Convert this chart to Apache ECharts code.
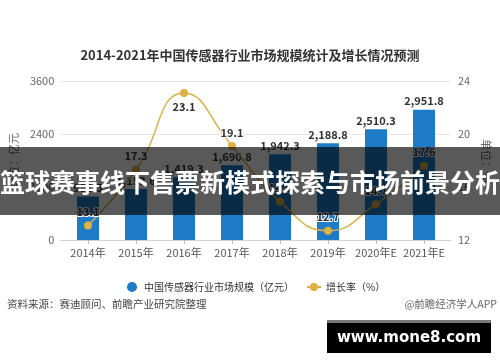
<!DOCTYPE html>
<html>
<head>
<meta charset="utf-8">
<script src="https://cdn.jsdelivr.net/npm/echarts@6/dist/echarts.min.js"></script>
<style>html,body{margin:0;padding:0;background:#fff}#c{width:500px;height:362px}</style>
</head>
<body>
<div id="c"></div>
<script>
var categories = ['2014年','2015年','2016年','2017年','2018年','2019年','2020年E','2021年E'];
var marketSize = [983.5, 1153.6, 1419.3, 1690.8, 1942.3, 2188.8, 2510.3, 2951.8];
var growthRate = [13.1, 17.3, 23.1, 19.1, 14.9, 12.7, 14.7, 17.6];
var leftTicks = {min: 0, max: 3600, interval: 1200};
var rightTicks = {min: 12, max: 24, interval: 4};
var barName = '中国传感器行业市场规模（亿元）';
var lineName = '增长率（%）';

var FONT = '"Noto Sans CJK SC","Noto Sans",sans-serif';
var chart = echarts.init(document.getElementById('c'));
var lineData = growthRate.map(function (v, i) {
  var d = {value: v};
  if (i === 2) d.label = {position: 'bottom', distance: 4};
  return d;
});
chart.setOption({
  animation: false,
  textStyle: {fontFamily: FONT},
  title: {
    text: '2014-2021年中国传感器行业市场规模统计及增长情况预测',
    left: 'center', top: 44,
    textStyle: {fontSize: 13, fontWeight: 'bold', color: '#333', fontFamily: FONT}
  },
  legend: {
    left: 122, top: 277, itemGap: 12, itemWidth: 14, itemHeight: 10, itemTextGap: 4,
    textStyle: {fontSize: 10, color: '#333', fontFamily: FONT},
    data: [{name: barName, icon: 'circle'}, {name: lineName}]
  },
  grid: [
    {left: 57, right: 45, top: 81, bottom: 122},
    {left: 64, right: 52, top: 81, bottom: 122}
  ],
  xAxis: [
    {gridIndex: 0, type: 'category', data: categories,
     axisLine: {show: true, lineStyle: {color: '#cfcfcf'}}, axisTick: {show: false}, axisLabel: {show: false}},
    {gridIndex: 1, type: 'category', data: categories,
     axisLine: {show: false},
     axisTick: {show: true, alignWithLabel: true, interval: 0, length: 4, lineStyle: {color: '#bbb'}},
     axisLabel: {color: '#555', fontSize: 11, margin: 7, interval: 0, fontFamily: FONT}}
  ],
  yAxis: [
    {gridIndex: 0, type: 'value', position: 'left', min: leftTicks.min, max: leftTicks.max, interval: leftTicks.interval,
     axisLine: {show: false}, axisTick: {show: false},
     axisLabel: {color: '#666', fontSize: 11, margin: 6, formatter: function (v) { return String(v); }},
     splitLine: {lineStyle: {color: '#e6e6e6'}},
     name: '单位：亿元', nameLocation: 'middle', nameGap: 36, nameRotate: 90,
     nameTextStyle: {color: '#666', fontSize: 11}},
    {gridIndex: 0, type: 'value', position: 'right', min: rightTicks.min, max: rightTicks.max, interval: rightTicks.interval,
     axisLine: {show: false}, axisTick: {show: false},
     axisLabel: {color: '#666', fontSize: 11, margin: 7, formatter: function (v) { return String(v); }},
     splitLine: {show: false},
     name: '单位：%', nameLocation: 'middle', nameGap: 21, nameRotate: -90,
     nameTextStyle: {color: '#666', fontSize: 11}},
    {gridIndex: 1, type: 'value', position: 'left', show: false, min: leftTicks.min, max: leftTicks.max, interval: leftTicks.interval, splitLine: {show: false}},
    {gridIndex: 1, type: 'value', position: 'right', show: false, min: rightTicks.min, max: rightTicks.max, interval: rightTicks.interval, splitLine: {show: false}}
  ],
  series: [
    {name: barName, type: 'bar', xAxisIndex: 1, yAxisIndex: 2, data: marketSize, barWidth: 22,
     itemStyle: {color: '#1E7BC8'},
     label: {show: true, position: 'top', distance: 3, color: '#333', fontWeight: 'bold', fontSize: 11,
       formatter: function (p) { return p.value.toLocaleString('en-US', {minimumFractionDigits: 1, maximumFractionDigits: 1}); }}},
    {name: lineName, type: 'line', xAxisIndex: 1, yAxisIndex: 3, data: lineData, smooth: true,
     symbol: 'circle', symbolSize: 8,
     lineStyle: {color: '#D9B24C', width: 1.5}, itemStyle: {color: '#E0B040'},
     label: {show: true, position: 'top', distance: 4, color: '#333', fontWeight: 'bold', fontSize: 11,
       textBorderColor: '#fff', textBorderWidth: 2}}
  ],
  graphic: [
    {type: 'text', left: 7, top: 299, style: {text: '资料来源：赛迪顾问、前瞻产业研究院整理', fill: '#444', font: '10.5px ' + FONT}},
    {type: 'text', right: 3, top: 299, style: {text: '@前瞻经济学人APP', fill: '#666', font: '10.5px ' + FONT}},
    {type: 'rect', z: 100, shape: {x: 0, y: 147, width: 500, height: 68}, style: {fill: 'rgba(0,0,0,0.65)'}},
    {type: 'text', z: 101, x: 250, y: 182, style: {text: '篮球赛事线下售票新模式探索与市场前景分析', fill: '#fff',
      font: 'bold 25px ' + FONT, align: 'center', verticalAlign: 'middle'}},
    {type: 'rect', z: 100, shape: {x: 327, y: 320, width: 164, height: 3}, style: {fill: '#777'}},
    {type: 'rect', z: 100, shape: {x: 327, y: 323, width: 164, height: 30}, style: {fill: '#000'}},
    {type: 'text', z: 101, x: 409, y: 338, style: {text: 'www.mone8.com', fill: '#fff',
      font: 'bold 15px "DejaVu Sans",sans-serif', align: 'center', verticalAlign: 'middle'}}
  ]
});
</script>
</body>
</html>
